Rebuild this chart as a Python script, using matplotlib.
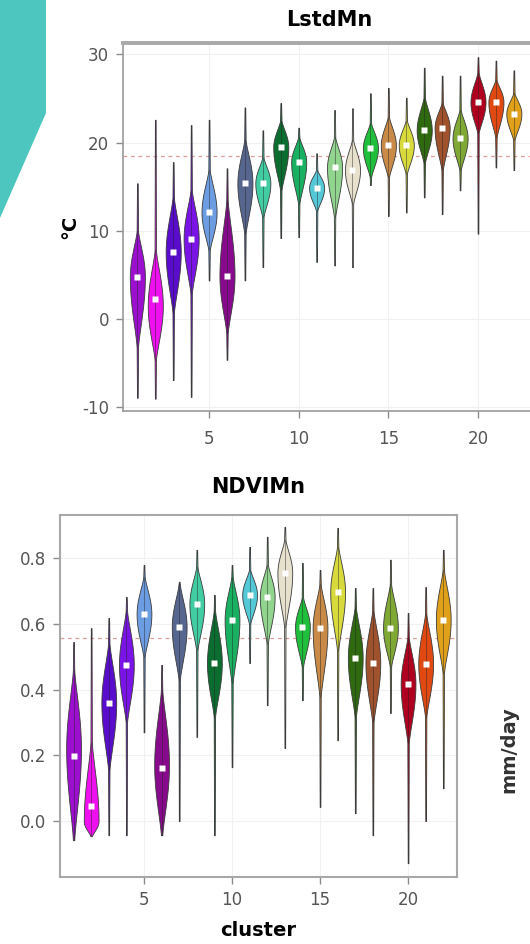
import numpy as np
import matplotlib.pyplot as plt
from matplotlib.patches import Polygon

plt.rcParams['axes.unicode_minus'] = False

# cluster ids and colours
clusters = list(range(1, 23))
colors = ['#9c0fcf', '#ee10ee', '#5a0ccc', '#7a14e6', '#6c9de2', '#880a8c',
          '#56668f', '#42cca2', '#0b6e30', '#19b062', '#54c8d6', '#90d48e',
          '#e6e0cc', '#1fbf3c', '#c88a46', '#d8da3c', '#2f6a10', '#a0522d',
          '#80a834', '#b0001f', '#e04a12', '#e0a01a']

# LstdMn (deg C): min, lower body, peak, median, upper body, max
lst_min = [-8.9, -9.0, -6.9, -8.8, 4.4, -4.6, 4.4, 5.9, 9.2, 9.3, 6.5,
           6.1, 5.9, 15.2, 11.7, 12.1, 13.8, 11.9, 14.6, 9.7, 17.2, 16.9]
lst_lo = [-3.2, -4.6, 0.7, 2.9, 7.8, -1.6, 9.7, 11.6, 14.6, 13.1, 12.3,
          11.6, 13.1, 16.1, 16.1, 16.5, 17.7, 16.9, 16.9, 21.1, 20.6, 20.3]
lst_peak = [4.8, 1.5, 7.6, 9.1, 12.1, 4.9, 15.4, 15.4, 19.5, 17.8, 14.9,
            17.2, 16.9, 19.4, 19.7, 19.7, 21.4, 21.7, 20.5, 24.6, 24.6, 23.3]
lst_med = [4.8, 2.3, 7.6, 9.1, 12.1, 4.9, 15.4, 15.4, 19.5, 17.8, 14.9,
           17.2, 16.9, 19.4, 19.7, 19.7, 21.4, 21.7, 20.5, 24.6, 24.6, 23.3]
lst_hi = [10.0, 7.8, 13.8, 14.6, 16.9, 13.5, 20.3, 18.3, 22.5, 20.6, 16.9,
          20.6, 20.3, 22.2, 22.9, 22.5, 25.1, 24.5, 23.7, 27.9, 27.1, 25.6]
lst_max = [15.4, 22.6, 17.8, 22.0, 22.6, 17.1, 24.0, 21.4, 24.5, 21.7, 18.8,
           23.7, 23.9, 25.6, 26.2, 25.1, 28.5, 27.6, 27.6, 29.7, 29.3, 28.2]
lst_ref = 18.5

# NDVIMn
ndvi_min = [-0.058, -0.046, -0.043, -0.043, 0.27, -0.043, 0.0, 0.256, -0.043,
            0.164, 0.481, 0.353, 0.222, 0.368, 0.043, 0.246, 0.024, -0.043,
            0.329, -0.128, 0.0, 0.10]
ndvi_lo = [-0.058, -0.046, 0.155, 0.30, 0.50, -0.043, 0.43, 0.52, 0.317,
           0.42, 0.60, 0.54, 0.59, 0.47, 0.378, 0.52, 0.317, 0.30, 0.47,
           0.237, 0.317, 0.45]
ndvi_peak = [0.22, 0.0, 0.359, 0.475, 0.63, 0.17, 0.591, 0.66, 0.481, 0.612,
             0.688, 0.682, 0.755, 0.59, 0.587, 0.697, 0.496, 0.481, 0.587,
             0.417, 0.478, 0.612]
ndvi_med = [0.198, 0.046, 0.359, 0.475, 0.63, 0.161, 0.591, 0.66, 0.481,
            0.612, 0.688, 0.682, 0.755, 0.59, 0.587, 0.697, 0.496, 0.481,
            0.587, 0.417, 0.478, 0.612]
ndvi_hi = [0.46, 0.24, 0.54, 0.64, 0.743, 0.40, 0.72, 0.773, 0.64, 0.743,
           0.764, 0.78, 0.855, 0.68, 0.72, 0.834, 0.65, 0.64, 0.72, 0.56,
           0.63, 0.764]
ndvi_max = [0.545, 0.587, 0.618, 0.682, 0.779, 0.475, 0.728, 0.825, 0.688,
            0.779, 0.834, 0.865, 0.895, 0.785, 0.764, 0.892, 0.709, 0.709,
            0.795, 0.633, 0.712, 0.825]
ndvi_ref = 0.557

xticks = [5, 10, 15, 20]


def half_width(y, vmin, lo, peak, hi, vmax, half=0.42, tail=0.04):
    w = np.empty_like(y)
    m = y < lo
    w[m] = tail * (0.5 + 0.5 * (y[m] - vmin) / max(lo - vmin, 1e-9))
    m = (y >= lo) & (y < peak)
    t = (y[m] - lo) / max(peak - lo, 1e-9)
    w[m] = tail + (half - tail) * np.sin(np.pi / 2 * t) ** 1.3
    m = (y >= peak) & (y <= hi)
    t = (hi - y[m]) / max(hi - peak, 1e-9)
    w[m] = tail + (half - tail) * np.sin(np.pi / 2 * t) ** 1.3
    m = y > hi
    w[m] = tail * (0.5 + 0.5 * (vmax - y[m]) / max(vmax - hi, 1e-9))
    return w


def draw_panel(ax, vmin, lo, peak, med, hi, vmax, ref):
    ax.axhline(ref, color='#e29a9a', lw=0.9, ls=(0, (3, 3)), zorder=1)
    for i, x in enumerate(clusters):
        y = np.linspace(vmin[i], vmax[i], 300)
        w = half_width(y, vmin[i], lo[i], peak[i], hi[i], vmax[i])
        ax.fill_betweenx(y, x - w, x + w, facecolor=colors[i],
                         edgecolor='#3a3a3a', lw=0.6, zorder=2)
        ax.plot([x, x], [lo[i], hi[i]], color='#222222', lw=0.7,
                alpha=0.45, zorder=3)
        ax.plot(x, med[i], marker='s', ms=4.5, color='white', mec='none',
                zorder=4)
    ax.set_xticks(xticks)
    ax.grid(True, color='#f1f1f1', lw=0.8, zorder=0)
    ax.set_axisbelow(True)
    ax.tick_params(direction='out', length=5, width=1, color='#8a8a8a',
                   labelcolor='#555555', labelsize=12, pad=5)


fig = plt.figure(figsize=(5.3, 9.44), dpi=100)

# decorative teal shape at top-left
W, H = 530, 944
teal = Polygon([(0, 1), (46 / W, 1), (46 / W, 1 - 113 / H), (0, 1 - 218 / H)],
               closed=True, transform=fig.transFigure, facecolor='#4cc6bf',
               edgecolor='none')
fig.add_artist(teal)

# top panel: LstdMn (runs past the right edge of the image)
ax1 = fig.add_axes([123 / W, 1 - 411 / H, 412 / W, 368 / H])
draw_panel(ax1, lst_min, lst_lo, lst_peak, lst_med, lst_hi, lst_max, lst_ref)
ax1.set_xlim(0.2, 23.18)
ax1.set_ylim(-10.4, 31.3)
ax1.set_yticks([-10, 0, 10, 20, 30])
ax1.tick_params(axis='x', pad=9)
ax1.set_title('LstdMn', fontsize=15, fontweight='bold', pad=12)
ax1.set_ylabel('°C', fontsize=14, fontweight='bold', labelpad=2)
for s in ['left', 'bottom']:
    ax1.spines[s].set_color('#9a9a9a')
    ax1.spines[s].set_linewidth(1.2)
ax1.spines['top'].set_color('#a8a8a8')
ax1.spines['top'].set_linewidth(2.8)
ax1.spines['right'].set_visible(False)

# bottom panel: NDVIMn
ax2 = fig.add_axes([60 / W, 1 - 877 / H, 397 / W, 362 / H])
draw_panel(ax2, ndvi_min, ndvi_lo, ndvi_peak, ndvi_med, ndvi_hi, ndvi_max,
           ndvi_ref)
ax2.set_xlim(0.23, 22.78)
ax2.set_ylim(-0.17, 0.931)
ax2.set_yticks([0.0, 0.2, 0.4, 0.6, 0.8])
ax2.set_yticklabels(['0.0', '0.2', '0.4', '0.6', '0.8'])
ax2.set_title('NDVIMn', fontsize=15, fontweight='bold', pad=16)
ax2.set_xlabel('cluster', fontsize=14, fontweight='bold', labelpad=9)
for s in ax2.spines.values():
    s.set_color('#a8a8a8')
    s.set_linewidth(1.5)

# label of the neighbouring panel, cut by the image edge
fig.text(509 / W, 1 - 750 / H, 'mm/day', rotation=90, fontsize=14,
         fontweight='bold', color='#333333', ha='center', va='center')

fig.savefig('out.png', dpi=100)
